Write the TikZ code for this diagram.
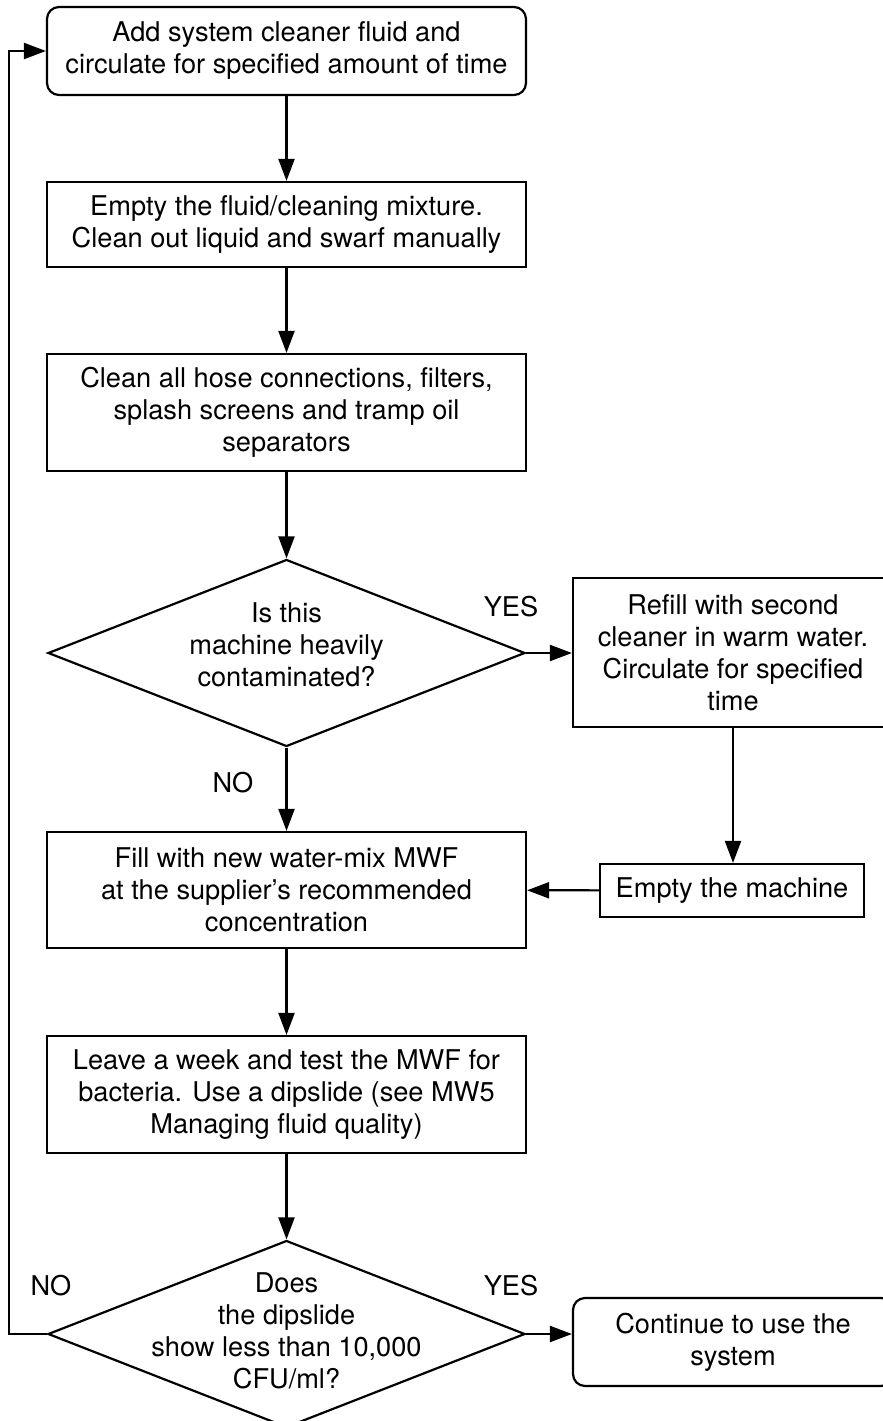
\documentclass[tikz,border=0pt]{standalone}
\usepackage{fontspec}
\setmainfont{TeX Gyre Heros}
\usetikzlibrary{positioning, arrows.meta, shapes.geometric}

\tikzset{
  stepbox/.style={draw, line width=2.2pt, minimum width=479pt, align=center, inner sep=0pt},
  roundbox/.style={stepbox, rounded corners=12pt},
  decision/.style={draw, diamond, line width=2.2pt, minimum width=477pt, minimum height=187pt, inner sep=0pt},
  flow/.style={line width=2.2pt, -{Triangle[length=22pt, width=16pt]}},
  answer/.style={inner sep=0pt},
}

\begin{document}
\begin{tikzpicture}[x=1pt, y=-1pt, font=\fontsize{27.2}{32}\selectfont]
  \useasboundingbox (0,0) rectangle (883,1421);

  % Main column
  \node[roundbox, minimum height=88pt] (add) at (286.5, 51)
    {Add system cleaner fluid and\\circulate for specified amount of time};
  \node[stepbox, minimum height=85pt] (empty) at (286.5, 224.5)
    {Empty the fluid/cleaning mixture.\\Clean out liquid and swarf manually};
  \node[stepbox, minimum height=117pt] (clean) at (286.5, 412.5)
    {Clean all hose connections, filters,\\splash screens and tramp oil\\separators};
  \node[decision] (heavy) at (286.5, 653) {};
  \node[align=center] (heavytext) at (286.5, 645)
    {Is this\\machine heavily\\contaminated?};
  \node[stepbox, minimum height=116pt] (fill) at (286.5, 890)
    {Fill with new water-mix MWF\\at the supplier’s recommended\\concentration};
  \node[stepbox, minimum height=117pt] (test) at (286.5, 1094.5)
    {Leave a week and test the MWF for\\bacteria. Use a dipslide (see MW5\\Managing fluid quality)};
  \node[decision] (count) at (286.5, 1334) {};
  \node[align=center] (counttext) at (286.5, 1331)
    {Does\\the dipslide\\show less than 10,000\\CFU/ml?};

  % Right column
  \node[stepbox, minimum width=320pt, minimum height=149pt] (refill) at (733, 652.5)
    {Refill with second\\cleaner in warm water.\\Circulate for specified\\time};
  \node[stepbox, minimum width=264pt, minimum height=53pt] (drain) at (732, 890.5)
    {Empty the machine};
  \node[roundbox, minimum width=320pt, minimum height=88pt] (cont) at (733, 1342)
    {Continue to use the\\system};

  % Labels
  \node[answer] (yes1) at (511, 607) {YES};
  \node[answer] (no1) at (233, 783) {NO};
  \node[answer] (no2) at (51, 1286) {NO};
  \node[answer] (yes2) at (511, 1286) {YES};

  % Arrows
  \draw[flow] (add) -- (empty);
  \draw[flow] (empty) -- (clean);
  \draw[flow] (clean) -- (heavy);
  \draw[flow] (heavy) -- (fill);
  \draw[flow] (heavy) -- (refill.west |- heavy);
  \draw[flow] (refill.south) -- (refill.south |- drain.north);
  \draw[flow] (drain) -- (fill);
  \draw[flow] (fill) -- (test);
  \draw[flow] (test) -- (count);
  \draw[flow] (count) -- (cont.west |- count);

  % Loop back
  \coordinate (back) at (9, 1334);
  \draw[flow] (count.west) -- (back) |- (add.west);
\end{tikzpicture}
\end{document}
